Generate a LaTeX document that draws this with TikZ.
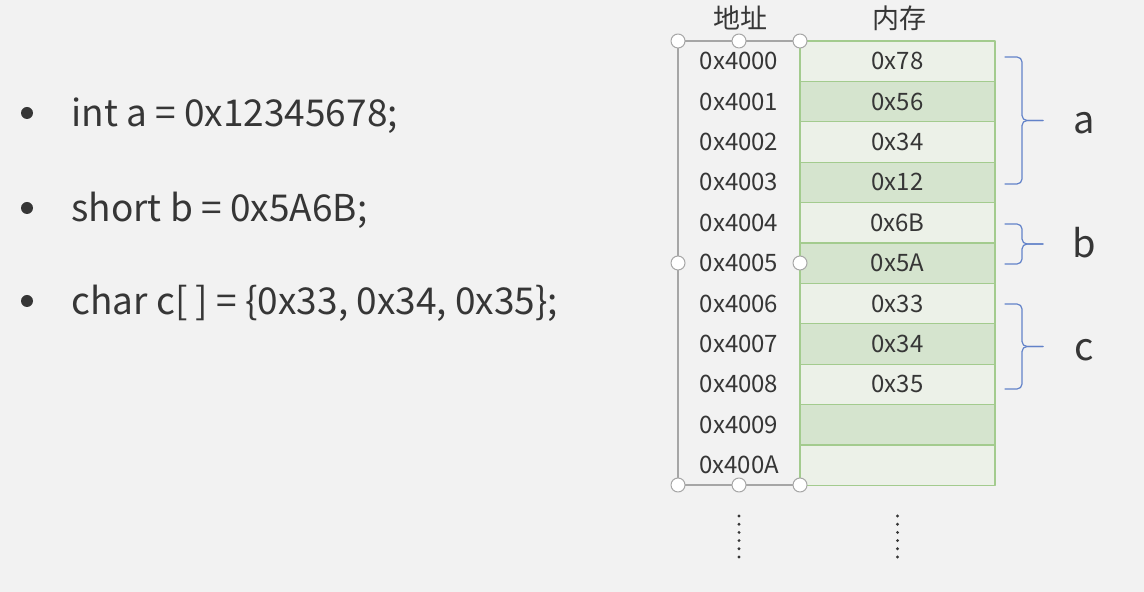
\documentclass[tikz,border=0pt]{standalone}
\usepackage{fontspec}
\setmainfont{Noto Sans CJK SC}
\usetikzlibrary{positioning}
\definecolor{bgcol}{HTML}{F2F2F2}
\definecolor{txt}{HTML}{363636}
\definecolor{memlight}{HTML}{ECF1E8}
\definecolor{memdark}{HTML}{D5E4CE}
\definecolor{memline}{HTML}{A3CB8E}
\definecolor{bracecol}{HTML}{6282C9}
\definecolor{selgray}{HTML}{A6A6A6}
\begin{document}
\begin{tikzpicture}[x=0.5pt,y=-0.5pt,line join = round, line cap = round,
	memcell/.style={draw=memline,line width=0.6pt,minimum width=97.5pt,minimum height=20.2pt,inner sep=0pt,text=txt,font=\fontsize{12}{14}\selectfont},
	addrcell/.style={inner sep=0pt,text=txt,font=\fontsize{12}{14}\selectfont},
	headtxt/.style={inner sep=0pt,text=txt,font=\fontsize{13.5}{15}\selectfont},
	codeline/.style={anchor=base west,inner sep=0pt,text=txt,font=\fontsize{18.5}{22}\selectfont},
	vartxt/.style={anchor=base,inner sep=0pt,text=txt,font=\fontsize{19}{22}\selectfont},
	handle/.style={draw=selgray,fill=white,line width=0.5pt},
	bracepath/.style={draw=bracecol,line width=0.6pt,rounded corners=2.5pt}]
	%Nền
	\fill[bgcol] (0,0) rectangle (1144,592);
	\useasboundingbox (0,0) rectangle (1144,592);
	%Các dòng khai báo
	\foreach \y/\n/\s in {127/1/{int a = 0x12345678;},222/2/{short b = 0x5A6B;},315/3/{char c[ ] = \{0x33, 0x34, 0x35\};}} {
		\fill[txt] (27,\y-14) circle (6);
		\node[codeline] (code\n) at (71,\y) {\s};
	}
	%Khung địa chỉ
	\draw[selgray,line width=0.6pt] (678,41) rectangle (800,485);
	\node[headtxt] (hdaddr) at (740,18) {地址};
	\node[headtxt] (hdmem) at (899,18) {内存};
	%Các ô nhớ
	\foreach \i/\a/\v/\c in {0/0x4000/0x78/memlight,1/0x4001/0x56/memdark,2/0x4002/0x34/memlight,3/0x4003/0x12/memdark,4/0x4004/0x6B/memlight,5/0x4005/0x5A/memdark,6/0x4006/0x33/memlight,7/0x4007/0x34/memdark,8/0x4008/0x35/memlight,9/0x4009/{}/memdark,10/0x400A/{}/memlight} {
		\node[memcell,fill=\c] (m\i) at (897.5,{61.2+40.4*\i}) {\v};
		\node[addrcell] (r\i) at (739,{61.2+40.4*\i}) {\a};
	}
	\foreach \p in {(678,41),(739,41),(800,41),(678,263),(800,263),(678,485),(739,485),(800,485)}
		\filldraw[handle] \p circle (7);
	%Dấu chấm dọc
	\foreach \x in {739,897.5} \foreach \k in {0,...,5} \fill[txt] (\x,516+8.2*\k) circle (1.6);
	%Ngoặc nhọn
	\foreach \t/\b/\l/\n in {57/184/134/a,224/264/258/b,304/389/361/c} {
		\coordinate (tip\n) at (1043,{(\t+\b)/2});
		\draw[bracepath] (1005,\t) -| (1022,{(\t+\b)/2}) -- (tip\n);
		\draw[bracepath] (tip\n) -- (1022,{(\t+\b)/2}) |- (1005,\b);
		\node[vartxt] (var\n) at (1084,\l) {\n};
	}
\end{tikzpicture}
\end{document}
